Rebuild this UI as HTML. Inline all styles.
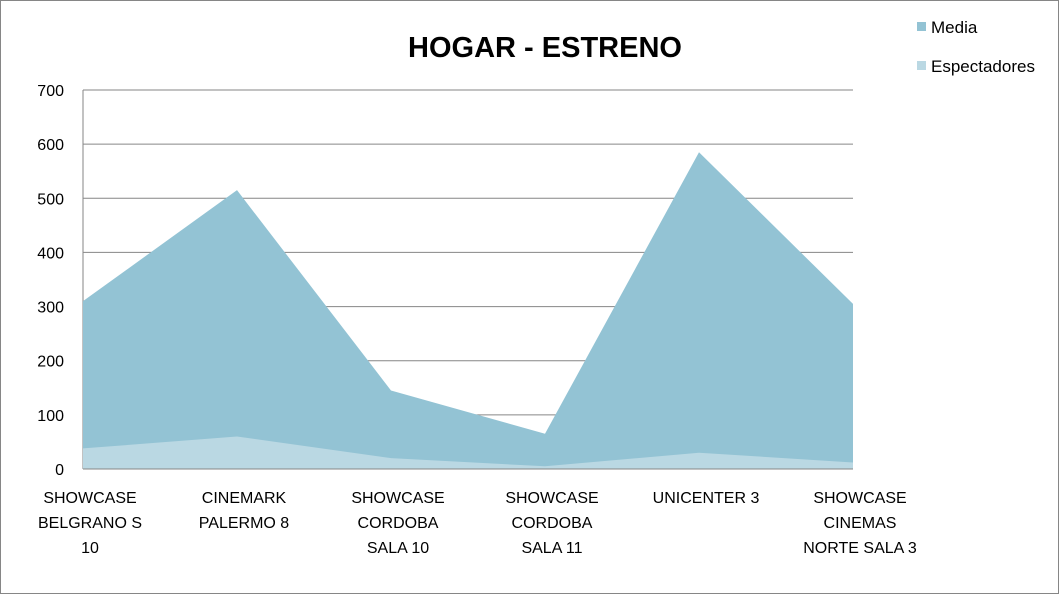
<!DOCTYPE html>
<html><head><meta charset="utf-8"><style>
body{margin:0;background:#fff;}
svg{display:block;font-family:"Liberation Sans",sans-serif;}
</style></head><body>
<svg id="chart" width="1059" height="594">
<rect x="0.5" y="0.5" width="1058" height="593" fill="#fff" stroke="#868686"/>
<text x="545" y="57" text-anchor="middle" font-size="29" font-weight="bold" fill="#000">HOGAR - ESTRENO</text>
<g id="grid"></g>
<g id="areas"></g>
<g id="yticks"></g>
<g id="xlabels"></g>
<g>
<rect x="917" y="22" width="9" height="9" fill="#93c3d4"/>
<text x="931" y="33" font-size="17" fill="#000">Media</text>
<rect x="917" y="61" width="9" height="9" fill="#bad8e3"/>
<text x="931" y="72" font-size="17" fill="#000">Espectadores</text>
</g>
</svg>
<script>
const categories=[["SHOWCASE","BELGRANO  S","10"],["CINEMARK","PALERMO 8"],["SHOWCASE","CORDOBA","SALA 10"],["SHOWCASE","CORDOBA","SALA 11"],["UNICENTER 3"],["SHOWCASE","CINEMAS","NORTE SALA 3"]];
const mediaValues=[310,515,145,65,585,305];
const espectadoresValues=[38,60,20,5,30,12];
const yTicks=[0,100,200,300,400,500,600,700];
const NS="http://www.w3.org/2000/svg";
const x0=83,x1=853,yB=469,yT=90,yMax=700;
const xs=i=>x0+i*(x1-x0)/(categories.length-1);
const ys=v=>yB-v/yMax*(yB-yT);
function mk(t,a,p){const e=document.createElementNS(NS,t);for(const k in a)e.setAttribute(k,a[k]);p.appendChild(e);return e;}
const grid=document.getElementById('grid'),yt=document.getElementById('yticks');
yTicks.forEach(v=>{
 const l=mk('line',{x1:x0,x2:x1,y1:ys(v),y2:ys(v),stroke:'#868686','stroke-width':1},grid);
 
 
 const t=mk('text',{x:64,y:ys(v)+6,'text-anchor':'end','font-size':16},yt);
 t.textContent=v;
 
 
});
const ax=mk('line',{x1:x0,x2:x0,y1:yT,y2:yB,stroke:'#868686'},grid);


const areas=document.getElementById('areas');
function area(vals,fill,name){
 let d=`M${xs(0)},${yB}`;vals.forEach((v,i)=>d+=` L${xs(i)},${ys(v)}`);d+=` L${xs(vals.length-1)},${yB} Z`;
 const p=mk('path',{d:d,fill:fill},areas);
 
 
}
area(mediaValues,'#93c3d4','area-media');
area(espectadoresValues,'#bad8e3','area-espectadores');
const xa=mk('line',{x1:x0,x2:x1,y1:yB,y2:yB,stroke:'#868686'},areas);


const xl=document.getElementById('xlabels');
categories.forEach((c,i)=>{
 c.forEach((line,j)=>{
  const t=mk('text',{x:xs(i)+7,y:503+j*25,'text-anchor':'middle','font-size':16},xl);
  t.textContent=line;
  
  
 });
});
</script>
</body></html>
